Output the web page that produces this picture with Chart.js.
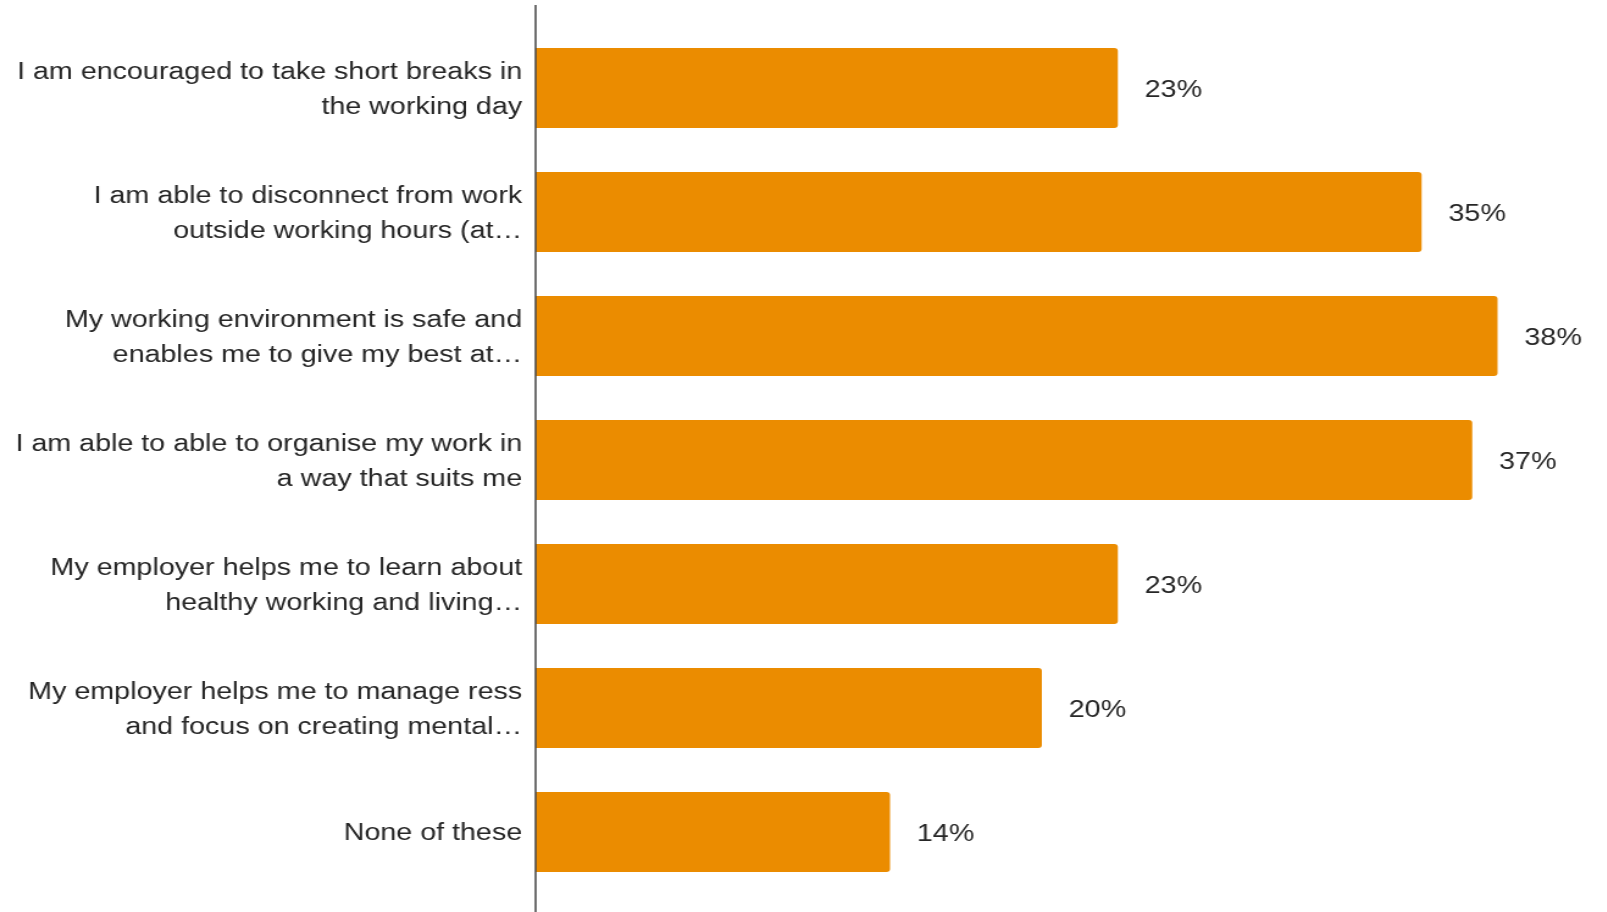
<!DOCTYPE html>
<html lang="en">
<head>
<meta charset="utf-8">
<title>Wellbeing at work</title>
<script src="https://cdn.jsdelivr.net/npm/chart.js@4/dist/chart.umd.min.js"></script>
<style>
  html, body { margin: 0; padding: 0; background: #fff; overflow: hidden; }
  /* chart is drawn narrow and widened, so the type gets the same wide look */
  #wrap { width: 1317px; height: 912px; transform: scaleX(1.22); transform-origin: 0 0; }
  canvas { display: block; }
</style>
</head>
<body>
<div id="wrap"><canvas id="barChart" width="1317" height="912"></canvas></div>
<script>
// statements, one entry per line of the label
const categories = [
  ['I am encouraged to take short breaks in', 'the working day'],
  ['I am able to disconnect from work', 'outside working hours (at\u2026'],
  ['My working environment is safe and', 'enables me to give my best at\u2026'],
  ['I am able to able to organise my work in', 'a way that suits me'],
  ['My employer helps me to learn about', 'healthy working and living\u2026'],
  ['My employer helps me to manage ress', 'and focus on creating mental\u2026'],
  ['None of these']
];
const shares = [23, 35, 38, 37, 23, 20, 14];

(function () {
  const FONT = '"Liberation Sans", Arial, sans-serif';
  const TEXT = '#262626';
  const ORANGE = '#eb8c00';

  // percentage written just past the end of each bar
  const valueLabels = {
    id: 'valueLabels',
    afterDatasetsDraw(chart) {
      const { ctx } = chart;
      const meta = chart.getDatasetMeta(0);
      ctx.save();
      ctx.font = `23.5px ${FONT}`;
      ctx.fillStyle = TEXT;
      ctx.textAlign = 'left';
      ctx.textBaseline = 'middle';
      meta.data.forEach((bar, i) => {
        ctx.fillText(`${shares[i]}%`, bar.x + 22, bar.y + 3);
      });
      ctx.restore();
    }
  };

  // vertical axis line, running a little past the plot area at both ends
  const axisLine = {
    id: 'axisLine',
    afterDatasetsDraw(chart) {
      const { ctx, chartArea } = chart;
      const x = chart.scales.x.getPixelForValue(0);
      ctx.save();
      ctx.strokeStyle = '#4a4a4a';
      ctx.lineWidth = 1.6;
      ctx.beginPath();
      ctx.moveTo(x, chartArea.top - 21);
      ctx.lineTo(x, chart.height);
      ctx.stroke();
      ctx.restore();
    }
  };

  new Chart(document.getElementById('barChart'), {
    type: 'bar',
    data: {
      labels: categories,
      datasets: [{
        data: shares,
        backgroundColor: ORANGE,
        borderRadius: 3,
        borderSkipped: 'start',
        categoryPercentage: 1,
        barPercentage: 0.645
      }]
    },
    options: {
      indexAxis: 'y',
      responsive: false,
      animation: false,
      layout: { padding: { top: 26, bottom: 18, right: 48, left: 0 } },
      plugins: {
        legend: { display: false },
        tooltip: { enabled: false }
      },
      scales: {
        x: {
          display: false,
          min: 0,
          max: 40
        },
        y: {
          grid: { display: false, drawTicks: false },
          border: { display: false },
          afterFit(scale) {
            // fixed axis width; two-line labels should not push the plot area in
            scale.width = 439;
            scale.paddingTop = 0;
            scale.paddingBottom = 0;
          },
          ticks: {
            color: TEXT,
            padding: 11,
            labelOffset: 2,
            font: { family: FONT, size: 23.5, lineHeight: 1.49 }
          }
        }
      }
    },
    plugins: [valueLabels, axisLine]
  });
})();
</script>
</body>
</html>
